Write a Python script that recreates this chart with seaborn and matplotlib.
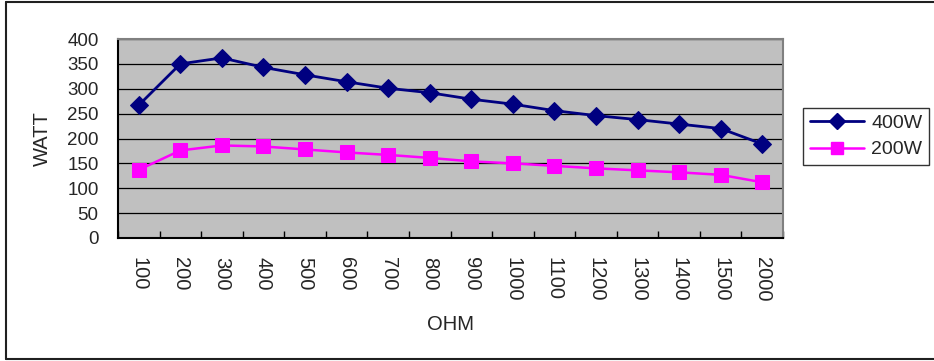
import numpy as np
import pandas as pd
import matplotlib
matplotlib.use("Agg")
import matplotlib.pyplot as plt
from matplotlib.lines import Line2D
from matplotlib.ticker import FixedLocator
import seaborn as sns

# Load resistance (ohm) vs. delivered power (watt) for two amplifier ratings
ohm_labels = ["100", "200", "300", "400", "500", "600", "700", "800", "900",
              "1000", "1100", "1200", "1300", "1400", "1500", "2000"]
watt_400w = [267, 350, 362, 343, 328, 314, 301, 292, 279, 269, 256, 246, 238, 229, 220, 189]
watt_200w = [137, 176, 186, 184, 178, 172, 167, 161, 154, 150, 145, 140, 136, 132, 127, 112]
y_ticks = [0, 50, 100, 150, 200, 250, 300, 350, 400]

pos = np.arange(len(ohm_labels))
df_400 = pd.DataFrame({"pos": pos, "watt": watt_400w})
df_200 = pd.DataFrame({"pos": pos, "watt": watt_200w})

sns.set_theme(style="white")
plt.rcParams["font.family"] = ["Liberation Sans", "DejaVu Sans"]

W, H = 934, 361
fig = plt.figure(figsize=(W / 100, H / 100), dpi=100)
fig.patch.set_facecolor("white")

ax = fig.add_axes([118 / W, 1 - 238 / H, (783 - 118) / W, (238 - 39) / H])
ax.set_facecolor("#C0C0C0")

navy = "#000080"
magenta = "#FF00FF"

sns.lineplot(data=df_400, x="pos", y="watt", ax=ax, color=navy, lw=2.0,
             marker="D", markersize=9.0, markeredgecolor=navy, markerfacecolor=navy,
             label="400W", legend=False, zorder=4)
sns.lineplot(data=df_200, x="pos", y="watt", ax=ax, color=magenta, lw=1.8,
             marker="s", markersize=9.4, markeredgecolor=magenta, markerfacecolor=magenta,
             label="200W", legend=False, zorder=3)

ax.set_xlim(-0.5, len(ohm_labels) - 0.5)
ax.set_ylim(0, 400)
ax.set_yticks(y_ticks)
ax.set_yticklabels([str(v) for v in y_ticks], fontsize=13.5)
ax.yaxis.grid(True, color="black", lw=0.9)
ax.set_axisbelow(True)
ax.tick_params(axis="y", length=0, pad=14)

# category labels at centres, tick marks at category boundaries
ax.set_xticks(pos)
ax.set_xticklabels(ohm_labels, rotation=-90, fontsize=14.5, va="top", ha="center")
ax.xaxis.set_minor_locator(FixedLocator(np.arange(len(ohm_labels) + 1) - 0.5))
ax.tick_params(axis="x", which="major", length=0, pad=14)
ax.tick_params(axis="x", which="minor", direction="in", length=5, width=1,
               color="black", bottom=True)

ax.set_xlabel("OHM", fontsize=14.5)
ax.xaxis.set_label_coords(0.5, (238 - 325) / 199)
ax.xaxis.label.set_va("center")
ax.set_ylabel("WATT", fontsize=14.5)
ax.yaxis.set_label_coords((42 - 118) / 665, 0.5)
ax.yaxis.label.set_va("center")

for side in ["left", "bottom"]:
    ax.spines[side].set_visible(True)
    ax.spines[side].set_color("black")
    ax.spines[side].set_linewidth(1.5)
for side in ["top", "right"]:
    ax.spines[side].set_visible(True)
    ax.spines[side].set_color("#808080")
    ax.spines[side].set_linewidth(1.5)

handles = [
    Line2D([], [], color=navy, lw=2.0, marker="D", markersize=8.0),
    Line2D([], [], color=magenta, lw=1.8, marker="s", markersize=8.0),
]
leg = fig.legend(handles, ["400W", "200W"], loc="center left",
                 bbox_to_anchor=(803 / W, 1 - 136.5 / H), fontsize=14,
                 frameon=True, fancybox=False, shadow=False,
                 handlelength=2.8, handletextpad=0.35, labelspacing=0.45,
                 borderpad=0.35, borderaxespad=0)
leg.get_frame().set_edgecolor("black")
leg.get_frame().set_linewidth(1.0)

# chart-area border
bx0, by0, by1 = 5.5 / W, 1 - 358.5 / H, 1 - 1.5 / H
for xs, ys in [([bx0, 1.01], [by1, by1]), ([bx0, bx0], [by0, by1]), ([bx0, 1.01], [by0, by0])]:
    fig.add_artist(Line2D(xs, ys, transform=fig.transFigure, color="#202020", lw=1.5))

fig.savefig("out.png", dpi=100)
